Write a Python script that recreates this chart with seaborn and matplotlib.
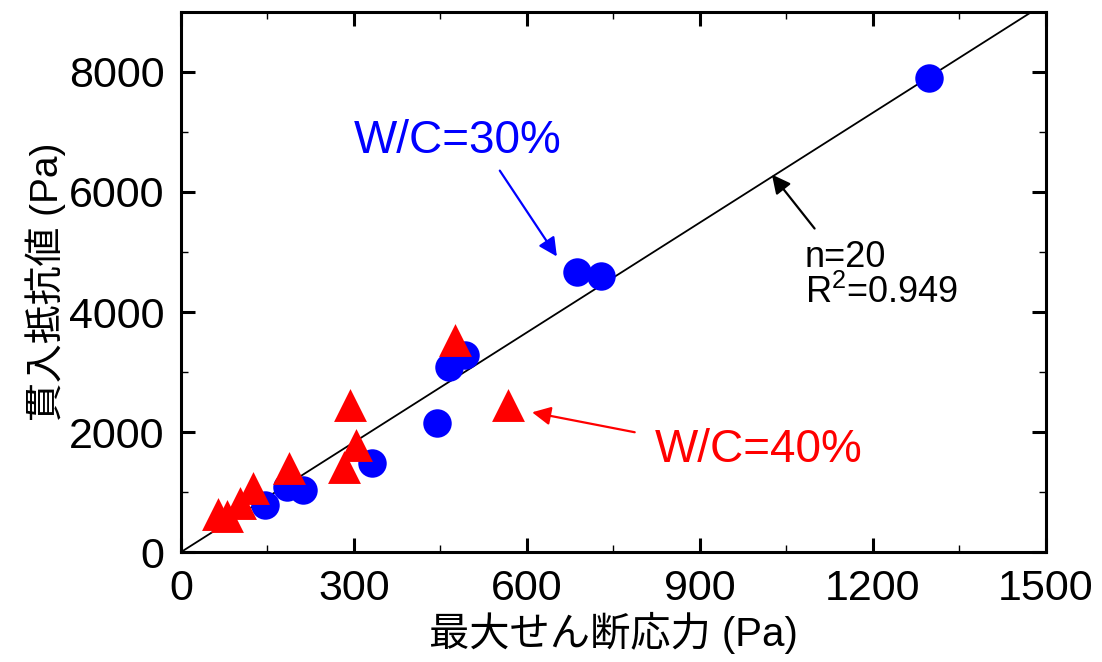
import numpy as np
import pandas as pd
import matplotlib
matplotlib.use("Agg")
import matplotlib.pyplot as plt
import seaborn as sns

# ======= Data =======
wc30_x = [146, 184, 212, 331, 444, 465, 492, 687, 728, 1297]
wc30_y = [782, 1082, 1032, 1481, 2146, 3078, 3278, 4659, 4592, 7903]
wc40_x = [65, 80, 102, 125, 187, 283, 293, 303, 475, 567]
wc40_y = [640, 600, 815, 1065, 1398, 1414, 2446, 1780, 3527, 2446]
fit_slope = 6.1
fit_x = [0, 1500]

x_ticks = [0, 300, 600, 900, 1200, 1500]
y_ticks = [0, 2000, 4000, 6000, 8000]

df30 = pd.DataFrame({"x": wc30_x, "y": wc30_y})
df40 = pd.DataFrame({"x": wc40_x, "y": wc40_y})
df_fit = pd.DataFrame({"x": fit_x, "y": [fit_slope * v for v in fit_x]})

# ======= Style =======
sns.set_style("ticks")
plt.rcParams['font.family'] = ['Liberation Sans', 'Noto Sans CJK JP', 'DejaVu Sans']
plt.rcParams['mathtext.default'] = 'regular'
for k in ['text.color', 'axes.labelcolor', 'xtick.color', 'ytick.color', 'axes.edgecolor']:
    plt.rcParams[k] = 'black'

fig = plt.figure(figsize=(11.02, 6.62), dpi=100)
ax = fig.add_axes([0.1642, 0.166, 0.7848, 0.816])

sns.lineplot(data=df_fit, x="x", y="y", color="black", linewidth=1.3, ax=ax, zorder=2)
sns.scatterplot(data=df30, x="x", y="y", marker="o", s=420, color="#0000ff",
                linewidth=0, ax=ax, zorder=3)
sns.scatterplot(data=df40, x="x", y="y", marker="^", s=560, color="#ff0000",
                linewidth=0, ax=ax, zorder=4)

ax.set_xlim(0, 1500)
ax.set_ylim(0, 9000)
ax.set_xticks(x_ticks)
ax.set_yticks(y_ticks)
ax.set_xticks(np.arange(150, 1500, 300), minor=True)
ax.set_yticks(np.arange(1000, 9000, 2000), minor=True)

for s in ax.spines.values():
    s.set_linewidth(2.2)
    s.set_color("black")
ax.tick_params(which="major", direction="in", length=10, width=2.2,
               top=True, right=True, labelsize=31, pad=12, colors="black")
ax.tick_params(which="minor", direction="in", length=5, width=1.0,
               top=True, right=True, colors="black")

ax.set_xlabel("最大せん断応力 (Pa)", fontsize=29, labelpad=2, color="black")
ax.set_ylabel("貫入抵抗値 (Pa)", fontsize=28, labelpad=2, color="black")

# annotations
ax.text(480, 6855, "W/C=30%", color="#0000ff", fontsize=33, ha="center", va="center")
ax.text(1002, 1697, "W/C=40%", color="#ff0000", fontsize=33, ha="center", va="center")
ax.text(1082, 4742, "n=20", color="black", fontsize=26, ha="left", va="baseline")
ax.text(1082, 4143, "R$^2$=0.949", color="black", fontsize=26, ha="left", va="baseline")

ax.annotate("", xy=(652, 4925), xytext=(553, 6356),
            arrowprops=dict(arrowstyle="-|>", color="#0000ff", lw=1.6,
                            mutation_scale=28, shrinkA=0, shrinkB=0))
ax.annotate("", xy=(609, 2329), xytext=(787, 1997),
            arrowprops=dict(arrowstyle="-|>", color="#ff0000", lw=1.6,
                            mutation_scale=28, shrinkA=0, shrinkB=0))
ax.annotate("", xy=(1025, 6290), xytext=(1099, 5391),
            arrowprops=dict(arrowstyle="-|>", color="black", lw=1.6,
                            mutation_scale=28, shrinkA=0, shrinkB=0))

fig.savefig("out.png", dpi=100)
